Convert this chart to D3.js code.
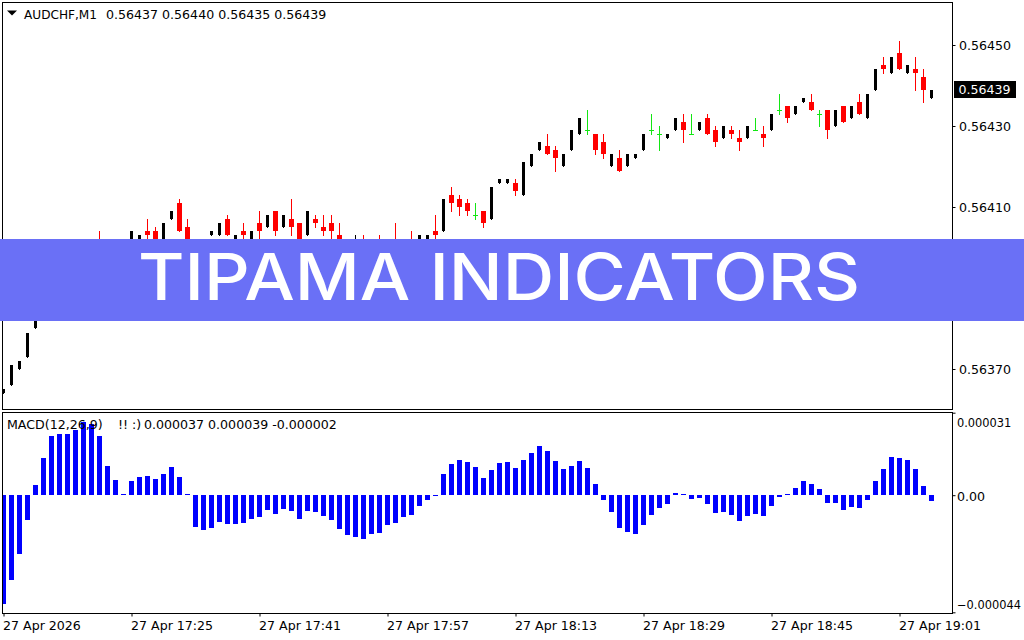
<!DOCTYPE html>
<html>
<head>
<meta charset="utf-8">
<script src="https://cdn.jsdelivr.net/npm/d3@7"></script>
<style>
  html, body { margin: 0; padding: 0; background: #fff; overflow: hidden; }
  text { font-family: "DejaVu Sans", sans-serif; font-size: 12.6px; fill: #000; }
</style>
</head>
<body>
<script>
// candle values in points above 0.56000 (0.56437 -> 437)
var opens = [364,366,370,373,380,386,389,392,391,395,397,396,399,398,399,398,400,401,404,404,400,407,411,405,401,399,403,403,407,402,404,402,406,405,409,405,407,406,403,407,405,406,403,400,399,400,399,400,399,400,399,400,400,401,404,404,413,412,411,408,409,407,416,416,416,413,420,424,425,424,420,424,428,429,428,426,420,422,420,422,424,429,428,427,429,431,428,429,432,429,427,429,427,427,429,428,429,434,435,433,436,436,433,434,430,435,432,436,432,439,445,443,448,443,444,442,437];
var highs = [365,371,372,379,386,390,393,394,396,398,399,400,404,400,400,400,404,403,407,405,406,409,412,407,402,401,404,406,408,403,406,404,409,408,409,408,412,406,409,408,408,408,406,401,403,403,401,403,401,406,401,404,403,403,408,412,415,413,412,411,409,415,417,417,417,421,423,426,428,425,423,429,432,434,428,428,423,424,423,423,428,433,430,428,432,433,433,431,433,430,430,430,429,430,432,430,433,438,435,435,437,438,434,434,434,435,435,438,438,444,447,447,451,445,447,444,439];
var lows = [364,366,370,373,380,385,388,390,391,394,396,395,397,396,397,397,400,401,401,400,400,407,404,400,398,398,403,403,403,402,401,402,402,405,403,405,403,400,403,405,403,401,399,398,397,398,398,398,397,398,398,398,400,401,401,404,409,408,408,407,405,407,416,416,413,413,420,424,423,419,420,424,428,428,423,422,420,419,420,422,424,428,424,427,429,426,428,429,428,425,427,427,424,427,429,425,429,433,431,433,436,434,430,427,430,431,432,433,432,439,443,443,444,443,439,436,437];
var closes = [365,371,372,379,386,389,392,391,395,397,396,399,398,399,398,399,404,403,403,401,406,409,404,401,399,400,404,406,403,403,403,404,404,408,404,408,405,401,409,406,404,404,400,399,400,399,400,399,400,399,400,399,403,403,403,412,411,410,409,408,406,415,417,417,414,421,423,426,423,422,423,429,432,429,424,423,423,419,423,423,428,429,428,428,432,429,428,431,428,426,430,428,426,430,429,427,433,434,432,435,437,434,433,429,434,431,435,433,438,444,444,447,444,445,443,439,439];

// MACD histogram, in millionths
var macdValues = [-41,-32,-22.2,-9.4,3.8,13.9,22.2,22.9,22.9,24.4,27.4,26.6,22.2,10.9,5.6,0.4,5.3,6.8,7.1,6,7.9,10.5,6.8,0.3,-12,-13.2,-12.4,-10.2,-10.9,-10.9,-10.5,-9,-8.3,-5.6,-7.1,-5.3,-6,-9,-6,-6.4,-7.9,-9.4,-12.8,-15,-15.8,-16.5,-14.7,-14.3,-11.3,-10.5,-8.3,-7.5,-4.1,-1.9,-0.3,7.9,11.7,13.2,12.4,10.5,6.4,9.4,12,12.4,10.2,13.2,15.8,18.4,16.5,12.8,9.8,10.9,12.8,10.2,4.1,-1.9,-6.4,-12.4,-13.9,-14.7,-11.3,-7.5,-4.9,-3.4,0.75,0.3,-1.5,-1.1,-3.4,-6.8,-6.4,-7.5,-9.8,-7.9,-7.1,-7.9,-4.1,-0.75,0.4,2.6,5.3,4.1,2.3,-3,-3,-5.6,-4.5,-4.9,-1.9,5.3,9.8,14.3,13.9,13.2,9.8,3.4,-2.3];

var timeIndex = [0,16,32,48,64,80,96,112];
var timeLabels = ["27 Apr 2026","27 Apr 17:25","27 Apr 17:41","27 Apr 17:57","27 Apr 18:13","27 Apr 18:29","27 Apr 18:45","27 Apr 19:01"];
var priceTicks = [0.5645,0.5643,0.5641,0.5639,0.5637];
var macdTicks = [31,0,-44];
var lastPrice = 0.56439;

var svgWidth = 1024, svgHeight = 640;
var left = 2.5, right = 952.5;
var mainTop = 2.5, mainBottom = 409.5;
var macdTop = 412.5, macdBottom = 613.5;

var svg = d3.select("body").append("svg")
  .attr("width", svgWidth)
  .attr("height", svgHeight)
  .style("display", "block");

var x = d3.scaleLinear().domain([0, 116]).range([3.5, 931.5]);
var yPrice = d3.scaleLinear().domain([0.5637, 0.5645]).range([369, 45]);
var yMacd = d3.scaleLinear().domain([-44, 31]).range([612.3, 412.7]);

function price(p) { return 0.56 + p / 100000; }

var defs = svg.append("defs");
defs.append("clipPath").attr("id", "clipMain").append("rect")
  .attr("x", 3).attr("y", 3).attr("width", right - 3).attr("height", mainBottom - 3);
defs.append("clipPath").attr("id", "clipMacd").append("rect")
  .attr("x", 3).attr("y", macdTop).attr("width", right - 3).attr("height", macdBottom - macdTop);

// candles: black bodies are drawn narrower than the red ones
var candles = svg.append("g").attr("clip-path", "url(#clipMain)").attr("shape-rendering", "crispEdges");
var colorOf = function(i) {
  if (closes[i] > opens[i]) return "#000";
  if (closes[i] < opens[i]) return "#f00";
  return "#14e614";
};

opens.forEach(function(o, i) {
  var cx = Math.floor(x(i));
  var up = closes[i] > o;
  var top = Math.round(yPrice(price(Math.max(o, closes[i]))));
  var bot = Math.round(yPrice(price(Math.min(o, closes[i]))));
  candles.append("rect")
    .attr("x", cx).attr("width", 1)
    .attr("y", Math.round(yPrice(price(highs[i]))))
    .attr("height", Math.round(yPrice(price(lows[i]))) - Math.round(yPrice(price(highs[i]))) + 1)
    .attr("fill", colorOf(i));
  candles.append("rect")
    .attr("x", up ? cx - 1 : cx - 2).attr("width", up ? 3 : 5)
    .attr("y", top)
    .attr("height", Math.max(bot - top, 1))
    .attr("fill", colorOf(i));
});

// macd histogram
svg.append("g").attr("clip-path", "url(#clipMacd)").attr("shape-rendering", "crispEdges")
  .selectAll("rect")
  .data(macdValues)
  .enter()
  .append("rect")
  .attr("x", (d, i) => Math.floor(x(i)) - 2)
  .attr("width", 5)
  .attr("y", d => Math.round(yMacd(Math.max(d, 0))))
  .attr("height", d => Math.max(Math.abs(Math.round(yMacd(d)) - Math.round(yMacd(0))), 1))
  .attr("fill", "#0000ff");

// frames
[[mainTop, mainBottom], [macdTop, macdBottom]].forEach(function(f) {
  svg.append("rect")
    .attr("x", left).attr("y", f[0])
    .attr("width", right - left).attr("height", f[1] - f[0])
    .attr("fill", "none").attr("stroke", "#000").attr("shape-rendering", "crispEdges");
});

// axes
var priceAxis = d3.axisRight(yPrice).tickValues(priceTicks).tickFormat(d3.format(".5f")).tickSize(3).tickPadding(3);
var gPrice = svg.append("g").attr("transform", `translate(${right}, 0)`).call(priceAxis);
gPrice.select(".domain").remove();
gPrice.selectAll("line").attr("stroke", "#000");
gPrice.selectAll("text").attr("x", 6.5).attr("dy", 4);

var timeAxis = d3.axisBottom(x).tickValues(timeIndex)
  .tickFormat((d, i) => timeLabels[i]).tickSize(3);
var gTime = svg.append("g").attr("transform", `translate(0, ${macdBottom})`).call(timeAxis);
gTime.select(".domain").remove();
gTime.selectAll("line").attr("stroke", "#000");
gTime.selectAll("text").attr("text-anchor", "start").attr("x", -1).attr("y", 7.5);

svg.selectAll("g.tick text").style("font-family", '"DejaVu Sans", sans-serif').style("font-size", "12.6px");

var macdAxis = d3.axisRight(yMacd).tickValues(macdTicks)
  .tickFormat(d => d === 0 ? "0.00" : d3.format(".6f")(d / 1e6)).tickSize(3);
var gMacd = svg.append("g").attr("transform", `translate(${right}, 0)`).call(macdAxis);
gMacd.select(".domain").remove();
gMacd.selectAll("line").attr("stroke", "#000");
gMacd.selectAll("text").attr("x", 4.5)
  .attr("dy", d => d === 31 ? 13.5 : d < 0 ? -3.5 : 5)
  .style("font-family", '"DejaVu Sans", sans-serif')
  .style("font-size", d => d === 0 ? "12.6px" : "11.4px");

// last price label
svg.append("rect").attr("x", 954).attr("y", 81).attr("width", 62).attr("height", 17).attr("fill", "#000");
svg.append("text").attr("x", 958.5).attr("y", 94).style("fill", "#fff").text(d3.format(".5f")(lastPrice));

// legends
svg.append("path").attr("d", "M7,10.5 L17,10.5 L12,15.5 Z").attr("fill", "#000");
svg.append("text").attr("x", 24).attr("y", 18.5).attr("textLength", 73).attr("lengthAdjust", "spacingAndGlyphs").text("AUDCHF,M1");
svg.append("text").attr("x", 106).attr("y", 18.5).text("0.56437 0.56440 0.56435 0.56439");
svg.append("text").attr("x", 7).attr("y", 428.5).text("MACD(12,26,9)");
svg.append("text").attr("x", 118).attr("y", 428.5).text("!! :)");
svg.append("text").attr("x", 144).attr("y", 428.5).text("0.000037 0.000039 -0.000002");

// banner over the chart
svg.append("rect").attr("x", 0).attr("y", 239).attr("width", svgWidth).attr("height", 82).attr("fill", "#6a70f6");
svg.append("text")
  .attr("x", 138).attr("y", 299.5)
  .attr("textLength", 722).attr("lengthAdjust", "spacingAndGlyphs")
  .style("font-family", "Inter, sans-serif")
  .style("font-size", "64px")
  .style("font-weight", 500)
  .style("fill", "#fff")
  .text("TIPAMA INDICATORS");
</script>
</body>
</html>
